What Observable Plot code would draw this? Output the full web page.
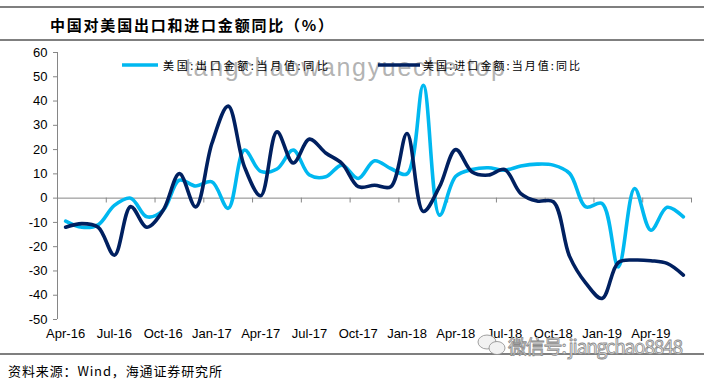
<!DOCTYPE html>
<html><head><meta charset="utf-8">
<script src="https://cdn.jsdelivr.net/npm/d3@7"></script>
<script src="https://cdn.jsdelivr.net/npm/@observablehq/plot@0.6"></script>
<style>
body{margin:0;background:#fff;}
#wrap{position:relative;width:704px;height:379px;overflow:hidden;}
</style></head><body><div id="wrap"></div>
<script>
const months = ["Apr-16","May-16","Jun-16","Jul-16","Aug-16","Sep-16","Oct-16","Nov-16","Dec-16",
  "Jan-17","Feb-17","Mar-17","Apr-17","May-17","Jun-17","Jul-17","Aug-17","Sep-17","Oct-17","Nov-17","Dec-17",
  "Jan-18","Feb-18","Mar-18","Apr-18","May-18","Jun-18","Jul-18","Aug-18","Sep-18","Oct-18","Nov-18","Dec-18",
  "Jan-19","Feb-19","Mar-19","Apr-19","May-19","Jun-19"];
const exportYoY = [-9.5,-12,-11,-3,0,-7.7,-5,7.4,5,6.7,-4.2,19.8,11,12,19.8,9.5,8.8,13.6,8.1,15.4,12.2,10,46.5,-7,9,11.8,12.5,11.5,13.2,14,13.6,10.2,-3.6,-2.2,-28.3,4,-13.2,-3.8,-7.7];
const importYoY = [-12,-10.5,-12,-23.5,-3.5,-12,-5,10.1,-3.6,22.6,37.9,12.9,1,27.3,14.5,24.3,18.6,14.3,4.7,5.3,4.7,26.6,-5.5,4.7,20,10.8,9.5,11.8,1.9,-1.2,-1.5,-24,-35,-41.3,-26.5,-25.5,-25.8,-26.9,-31.7];
const tickLabels = ["Apr-16","Jul-16","Oct-16","Jan-17","Apr-17","Jul-17","Oct-17","Jan-18","Apr-18","Jul-18","Oct-18","Jan-19","Apr-19"];
const yTicks = [60,50,40,30,20,10,0,-10,-20,-30,-40,-50];
const seriesNames = ["美国:出口金额:当月值:同比","美国:进口金额:当月值:同比"];
const seriesColors = ["#00B8F0","#002060"];
const titleText = "中国对美国出口和进口金额同比（%）";
const captionText = "资料来源：Wind，海通证券研究所";

const data = months.flatMap((m, i) => [
  {i, m, v: exportYoY[i], s: seriesNames[0]},
  {i, m, v: importYoY[i], s: seriesNames[1]}
]);
const labelIdx = tickLabels.map(t => months.indexOf(t));
const boundaryTicks = d3.range(0, months.length + 1, 3).map(k => k - 0.5);

const chart = Plot.plot({
  width: 704, height: 379,
  marginLeft: 57, marginRight: 13, marginTop: 52, marginBottom: 60,
  style: {fontFamily: "'Liberation Sans', Arial, sans-serif", fontSize: "13px", color: "#000", background: "#fff"},
  x: {type: "linear", domain: [-0.5, months.length - 0.5]},
  y: {domain: [-50, 60]},
  color: {domain: seriesNames, range: seriesColors},
  marks: [
    Plot.ruleY([0], {stroke: "#868686", strokeWidth: 1}),
    Plot.ruleX(boundaryTicks, {y1: 0, y2: -2, stroke: "#868686"}),
    Plot.ruleX([-0.5], {y1: -50, y2: 60, stroke: "#868686"}),
    Plot.axisY({ticks: yTicks, tickSize: 4, tickPadding: 6, label: null, stroke: "#868686", fill: "#000", tickFormat: d => String(d), fontSize: 13}),
    Plot.axisX({ticks: labelIdx, tickFormat: i => months[i], tickSize: 0, tickPadding: 9, label: null, fill: "#000", fontSize: 13}),
    Plot.line(data, {x: "i", y: "v", z: "s", stroke: "s", strokeWidth: 3.6, curve: "catmull-rom"})
  ]
});

document.getElementById("wrap").appendChild(chart);
const svg = d3.select(chart);
const cjk = "'Noto Sans CJK SC', 'Noto Sans', sans-serif";
const overlay = svg.append("g").attr("text-anchor", "start");

// frame lines
[[7, 1.2], [40, 1], [354, 1.2]].forEach(([y, w]) => {
  overlay.append("line").attr("x1", 0).attr("x2", 704).attr("y1", y).attr("y2", y)
    .attr("stroke", "#000").attr("stroke-width", w);
});

// title
overlay.append("text").attr("x", 50).attr("y", 24).attr("dominant-baseline", "central")
  .attr("font-family", cjk).attr("font-weight", "bold").attr("font-size", 15)
  .attr("textLength", 283).attr("lengthAdjust", "spacing").attr("fill", "#000").text(titleText);

// caption
overlay.append("text").attr("x", 8).attr("y", 370).attr("dominant-baseline", "central")
  .attr("font-family", cjk).attr("font-size", 13)
  .attr("textLength", 214).attr("lengthAdjust", "spacing").attr("fill", "#000").text(captionText);

// watermark (top)
overlay.append("text").attr("x", 185).attr("y", 76)
  .attr("font-family", "'Liberation Sans', Arial, sans-serif").attr("font-size", 25)
  .attr("textLength", 320).attr("lengthAdjust", "spacing")
  .attr("fill", "#9a9a9a").attr("fill-opacity", 0.75).text("tangchaowangyueche.top");

// legend
const legend = [
  {x1: 122, x2: 158, tx: 163, tl: 165},
  {x1: 378, x2: 420, tx: 423, tl: 157}
];
legend.forEach((L, k) => {
  overlay.append("line").attr("x1", L.x1).attr("x2", L.x2).attr("y1", 65).attr("y2", 65)
    .attr("stroke", seriesColors[k]).attr("stroke-width", 3.6);
  overlay.append("text").attr("x", L.tx).attr("y", 65).attr("dominant-baseline", "central")
    .attr("font-family", cjk).attr("font-size", 11)
    .attr("textLength", L.tl).attr("lengthAdjust", "spacing").attr("fill", "#000").text(seriesNames[k]);
});

// watermark (bottom)
const wm = overlay.append("g").attr("fill", "#f2f2f2").attr("stroke", "#8a8a8a").attr("stroke-width", 0.8);
wm.append("ellipse").attr("cx", 487).attr("cy", 342).attr("rx", 9).attr("ry", 7);
wm.append("ellipse").attr("cx", 497).attr("cy", 348).attr("rx", 8).attr("ry", 6.5);
wm.append("text").attr("x", 508).attr("y", 345).attr("dominant-baseline", "central")
  .attr("font-family", cjk).attr("font-size", 19)
  .attr("textLength", 175).attr("lengthAdjust", "spacing").text("微信号: jiangchao8848");
</script></body></html>
